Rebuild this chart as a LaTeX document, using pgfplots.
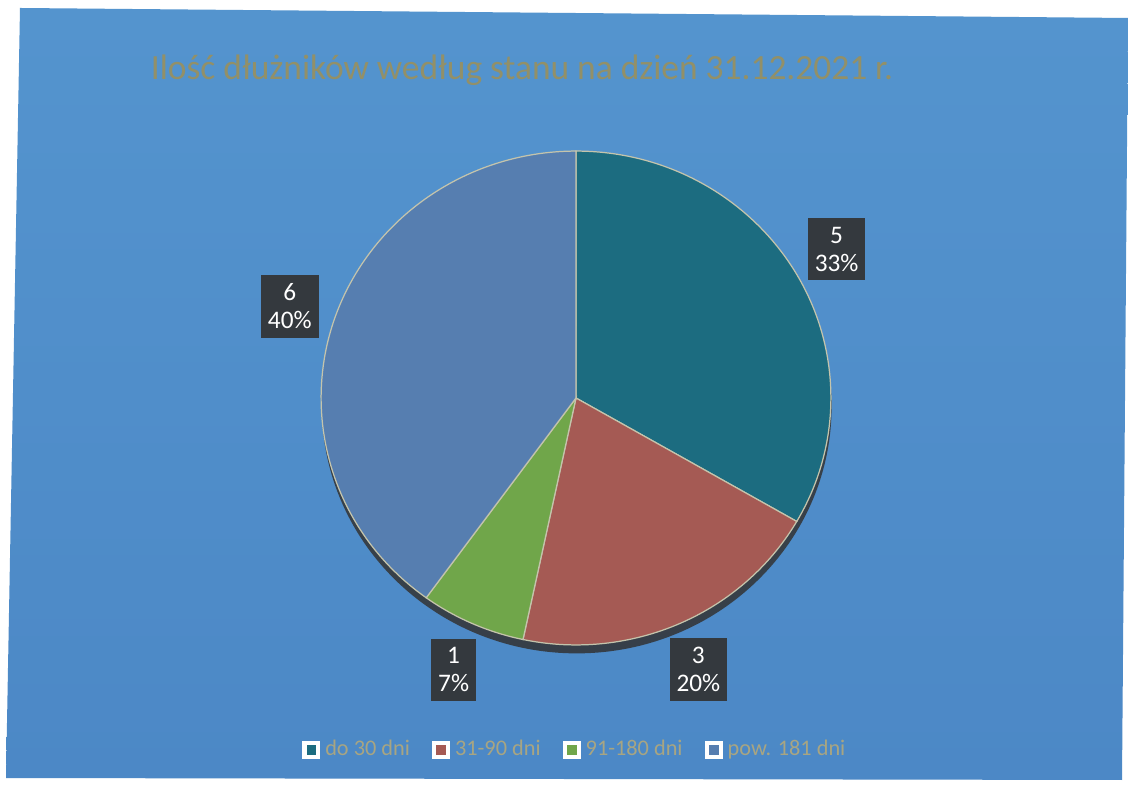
\documentclass[border=0pt]{standalone}
\usepackage{pgfplots}
\pgfplotsset{compat=1.18}
\usepackage{pgfplotstable}
\usetikzlibrary{calc}
\usepackage{fontspec}
\setmainfont{Carlito}
\definecolor{cTeal}{RGB}{28,108,128}
\definecolor{cRed}{RGB}{165,90,84}
\definecolor{cGreen}{RGB}{112,166,74}
\definecolor{cBlue}{RGB}{86,126,176}
\definecolor{bgTop}{RGB}{84,148,206}
\definecolor{bgMid}{RGB}{82,160,222}
\definecolor{bgBot}{RGB}{76,136,198}
\definecolor{edge}{RGB}{196,196,172}
\definecolor{labbg}{RGB}{52,57,62}
\definecolor{titlec}{RGB}{146,144,104}
\definecolor{legc}{RGB}{168,165,130}
% value, share label, colour, legend text
\pgfplotstableread[col sep=comma]{
value,pct,col,name
5,33,cTeal,do 30 dni
3,20,cRed,31-90 dni
1,7,cGreen,91-180 dni
6,40,cBlue,pow. 181 dni
}\piedata
\begin{document}
\begin{tikzpicture}
\begin{axis}[
  x=0.014184cm, y=0.014184cm,
  xmin=0, xmax=1128, ymin=0, ymax=786,
  enlargelimits=false, hide axis, clip=false,
  legend columns=4,
  legend style={at={(0.511,0.046)}, anchor=center, draw=none, fill=none,
    font=\fontsize{9}{10.5}\selectfont, text=legc,
    /tikz/every even column/.append style={column sep=7pt}},
]
\pgfplotsextra{
  \fill[white] (axis cs:0,0) rectangle (axis cs:1128,786);
  \shade[top color=bgTop, middle color=bgMid, bottom color=bgBot]
    (axis cs:20,778) -- (axis cs:1128,768) -- (axis cs:1122,6) -- (axis cs:6,8) -- cycle;
  \node[text=titlec, font=\fontsize{14.3}{16}\selectfont] at (axis cs:522,716)
    {Ilość dłużników według stanu na dzień 31.12.2021 r.};
  % shadow
  \fill[black!80, opacity=0.85] ($(axis cs:576,388)+(0.01cm,-0.12cm)$) ellipse [x radius=3.617cm, y radius=3.504cm];
  \xdef\angA{90}
  \foreach \i in {0,...,3}{
    \pgfplotstablegetelem{\i}{value}\of\piedata \let\v\pgfplotsretval
    \pgfplotstablegetelem{\i}{pct}\of\piedata \let\p\pgfplotsretval
    \pgfplotstablegetelem{\i}{col}\of\piedata \let\col\pgfplotsretval
    \pgfmathsetmacro\angB{\angA - \v/15*360}
    \pgfmathsetmacro\mid{(\angA+\angB)/2}
    \filldraw[fill=\col, draw=edge, line width=0.5pt]
      (axis cs:576,388) -- ++(\angA:3.617cm and 3.504cm)
      arc[start angle=\angA, end angle=\angB, x radius=3.617cm, y radius=3.504cm] -- cycle;
    \node[fill=labbg, text=white, align=center, inner xsep=2.8pt, inner ysep=3.5pt,
      font=\fontsize{10.2}{11.5}\selectfont]
      at ($(axis cs:576,388)+(\mid:4.27cm and 4.22cm)$) {\v\\\p\%};
    \xdef\angA{\angB}
  }
}
\pgfplotsinvokeforeach{0,1,2,3}{
  \pgfplotstablegetelem{#1}{col}\of\piedata
  \edef\tmp{\noexpand\addlegendimage{legend image code/.code={
     \noexpand\fill[white] (0pt,-3.4pt) rectangle (6.8pt,3.4pt);
     \noexpand\fill[\pgfplotsretval] (1.7pt,-1.7pt) rectangle (5.1pt,1.7pt);}}}
  \tmp
}
\legend{do 30 dni, 31-90 dni, 91-180 dni, pow. 181 dni}
\end{axis}
\end{tikzpicture}
\end{document}
